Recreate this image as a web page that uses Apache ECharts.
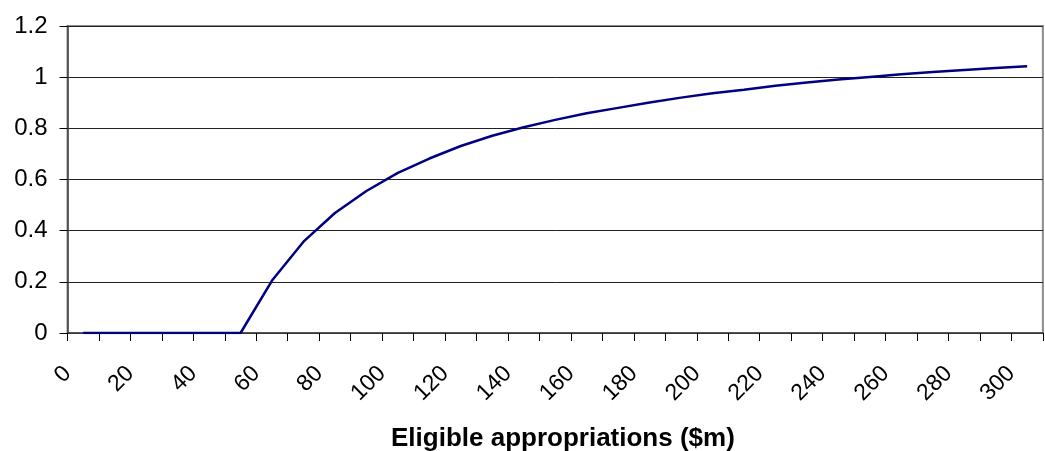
<!DOCTYPE html>
<html>
<head>
<meta charset="utf-8">
<script src="https://cdn.jsdelivr.net/npm/echarts@6/dist/echarts.min.js"></script>
<style>
html,body{margin:0;padding:0;background:#fff;}
#c{width:1045px;height:451px;}
</style>
</head>
<body>
<div id="c"></div>
<script>
// Eligible appropriations ($m) at the middle of each 10-unit bin
const xValues = [5, 15, 25, 35, 45, 55, 65, 75, 85, 95, 105, 115, 125, 135, 145, 155,
  165, 175, 185, 195, 205, 215, 225, 235, 245, 255, 265, 275, 285, 295, 305];
const yValues = [0, 0, 0, 0, 0, 0, 0.205, 0.357, 0.469, 0.555, 0.626, 0.682, 0.731, 0.771, 0.804, 0.833,
  0.859, 0.880, 0.901, 0.920, 0.937, 0.951, 0.966, 0.979, 0.991, 1.001, 1.011, 1.020, 1.028, 1.036, 1.043];
const xTickLabels = ['0','20','40','60','80','100','120','140','160','180','200','220','240','260','280','300'];
const yTickLabels = ['0','0.2','0.4','0.6','0.8','1','1.2'];
const axisTitle = 'Eligible appropriations ($m)';

const chart = echarts.init(document.getElementById('c'), null, {renderer: 'canvas'});
const font = 'Liberation Sans, Arial, sans-serif';
chart.setOption({
  animation: false,
  backgroundColor: '#fff',
  grid: {left: 67.5, top: 26, bottom: 118, right: -9.3, show: true, borderColor: '#8c8c8c', borderWidth: 2},
  title: {
    text: axisTitle, left: 386, top: 421,
    textStyle: {fontFamily: font, fontWeight: 'bold', fontSize: 26, color: '#000'}
  },
  xAxis: {
    type: 'value', min: 0, max: 310, interval: 10,
    axisLine: {show: true, lineStyle: {color: '#404040', width: 1.5}},
    axisTick: {show: true, length: 8, lineStyle: {color: '#000', width: 1}},
    splitLine: {show: false},
    axisLabel: {
      rotate: 45, margin: 37, fontFamily: font, fontSize: 23, color: '#000',
      formatter: function (v) {
        const s = String(Math.round(v));
        return xTickLabels.indexOf(s) >= 0 ? s : '';
      }
    }
  },
  yAxis: {
    type: 'value', min: 0, max: 1.2, interval: 0.2,
    axisLine: {show: true, lineStyle: {color: '#404040', width: 1.5}},
    axisTick: {show: true, length: 8, lineStyle: {color: '#000', width: 1}},
    splitLine: {show: true, lineStyle: {color: '#222', width: 1}},
    axisLabel: {
      margin: 20, fontFamily: font, fontSize: 24, color: '#000',
      formatter: function (v) {
        const s = String(Math.round(v * 10) / 10);
        return yTickLabels.indexOf(s) >= 0 ? s : '';
      }
    }
  },
  series: [{
    type: 'line',
    data: xValues.map((x, i) => [x, yValues[i]]),
    showSymbol: false,
    lineStyle: {color: '#000080', width: 2.5},
    itemStyle: {color: '#000080'}
  }]
});
</script>
</body>
</html>
